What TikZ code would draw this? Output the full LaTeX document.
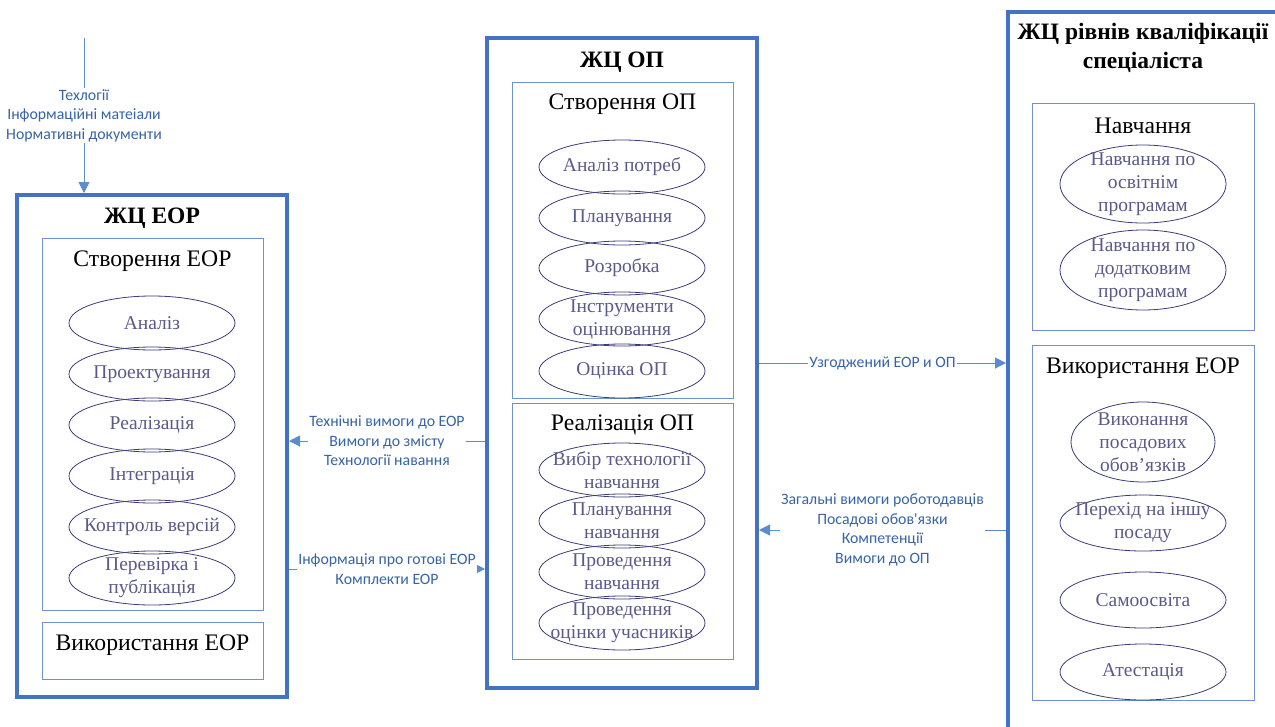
\documentclass[tikz,border=0pt]{standalone}
\usepackage{fontspec}
\setmainfont{Liberation Serif}
\newfontfamily\labfont{Carlito}
\usetikzlibrary{shapes.geometric,arrows.meta,calc}
\definecolor{thickc}{RGB}{68,114,196}
\definecolor{thinc}{RGB}{110,145,210}
\definecolor{ellc}{RGB}{60,60,120}
\definecolor{elltxt}{RGB}{90,90,138}
\definecolor{conc}{RGB}{91,140,205}
\definecolor{labc}{RGB}{55,100,165}
\newcommand\myell[5]{%
  \node[ellsh,minimum width=#3,minimum height=#4] (#1) at (#2) {};
  \node[elltext] at (#1) {#5};}
\begin{document}
\begin{tikzpicture}[x=1pt,y=-1pt,
  bigbox/.style={draw=thickc,line width=4pt,inner sep=0pt},
  subbox/.style={draw=thinc,line width=1pt,inner sep=0pt},
  ellsh/.style={ellipse,draw=ellc,line width=0.8pt,inner sep=0pt},
  elltext/.style={text=elltxt,align=center,font=\fontsize{19.5}{23}\selectfont,inner sep=0pt},
  bigtitle/.style={font=\bfseries\fontsize{23.5}{29}\selectfont,align=center,inner sep=0pt},
  subtitle/.style={font=\fontsize{23.7}{25}\selectfont,inner sep=0pt},
  conn/.style={draw=conc,line width=1pt,-{Triangle[length=11pt,width=11pt]}},
  lbl/.style={font=\labfont\fontsize{15.8}{19.5}\selectfont,text=labc,align=center,fill=white,inner sep=1pt}]
\useasboundingbox (0,0) rectangle (1275,726);
\clip (0,0) rectangle (1275,726);

% ---------- ЖЦ ЕОР ----------
\node[bigbox,minimum width=270pt,minimum height=502pt] (eor) at (152,446) {};
\node[bigtitle] (eorT) at (152,218) {ЖЦ ЕОР};
\node[subbox,minimum width=221pt,minimum height=372pt] (eorC) at (152.5,424) {};
\node[subtitle] (eorCT) at (152.5,261) {Створення ЕОР};
\myell{e1}{152,323}{166pt}{54pt}{Аналіз}
\myell{e2}{152,374}{166pt}{54pt}{Проектування}
\myell{e3}{152,425}{166pt}{54pt}{Реалізація}
\myell{e4}{152,476}{166pt}{54pt}{Інтеграція}
\myell{e5}{152,527}{166pt}{54pt}{Контроль версій}
\myell{e6}{152,578}{166pt}{54pt}{Перевірка і\\публікація}
\node[subbox,minimum width=221pt,minimum height=57pt] (eorU) at (152.5,650.5) {};
\node[subtitle] (eorUT) at (152.5,645) {Використання ЕОР};

% ---------- ЖЦ ОП ----------
\node[bigbox,minimum width=270pt,minimum height=650pt] (op) at (622,363) {};
\node[bigtitle] (opT) at (622,62) {ЖЦ ОП};
\node[subbox,minimum width=221pt,minimum height=316pt] (opC) at (622.5,240) {};
\node[subtitle] (opCT) at (622.5,104) {Створення ОП};
\myell{o1}{622,167}{166pt}{54pt}{Аналіз потреб}
\myell{o2}{622,218}{166pt}{54pt}{Планування}
\myell{o3}{622,268}{166pt}{54pt}{Розробка}
\myell{o4}{622,319}{166pt}{54pt}{Інструменти\\оцінювання}
\myell{o5}{622,371}{166pt}{54pt}{Оцінка ОП}
\node[subbox,minimum width=221pt,minimum height=256pt] (opR) at (622.5,531) {};
\node[subtitle] (opRT) at (622.5,425) {Реалізація ОП};
\myell{r1}{622,470}{166pt}{54pt}{Вибір технології\\навчання}
\myell{r2}{622,521}{166pt}{54pt}{Планування\\навчання}
\myell{r3}{622,572}{166pt}{54pt}{Проведення\\навчання}
\myell{r4}{622,623}{166pt}{54pt}{Проведення\\оцінки учасників}

% ---------- ЖЦ рівнів кваліфікації ----------
\node[bigbox,minimum width=292pt,minimum height=728pt] (kv) at (1154,376) {};
\node[bigtitle] (kvT) at (1143,48) {ЖЦ рівнів кваліфікації\\спеціаліста};
\node[subbox,minimum width=222pt,minimum height=227pt] (kvN) at (1143,216.5) {};
\node[subtitle] (kvNT) at (1143,126) {Навчання};
\myell{n1}{1143,184}{166pt}{78pt}{Навчання по\\освітнім\\програмам}
\myell{n2}{1143,270}{166pt}{80pt}{Навчання по\\додатковим\\програмам}
\node[subbox,minimum width=222pt,minimum height=355pt] (kvU) at (1143,522.5) {};
\node[subtitle] (kvUT) at (1143,368) {Використання ЕОР};
\myell{u1}{1143,442}{144pt}{80pt}{Виконання\\посадових\\обов'язків}
\myell{u2}{1143,523}{166pt}{56pt}{Перехід на іншу\\посаду}
\myell{u3}{1143,600}{166pt}{56pt}{Самоосвіта}
\myell{u4}{1143,672}{166pt}{56pt}{Атестація}

% ---------- connectors ----------
\coordinate (src) at (84,38);
\draw[conn] (src) -- node[lbl] {Техлогії\\Інформаційні матеіали\\Нормативні документи} (src |- eor.north);
\draw[conn] (op.west |- 0,441) -- node[lbl] {Технічні вимоги до ЕОР\\Вимоги до змісту\\Технології навання} (eor.east |- 0,441);
\draw[conn] (eor.east |- 0,569) -- node[lbl] {Інформація про готові ЕОР\\Комплекти ЕОР} (op.west |- 0,569);
\draw[conn] (op.east |- 0,363) -- node[lbl] {Узгоджений ЕОР и ОП} (kv.west |- 0,363);
\draw[conn] (kv.west |- 0,530) -- node[lbl] {Загальні вимоги роботодавців\\Посадові обов'язки\\Компетенції\\Вимоги до ОП} (op.east |- 0,530);
\end{tikzpicture}
\end{document}
